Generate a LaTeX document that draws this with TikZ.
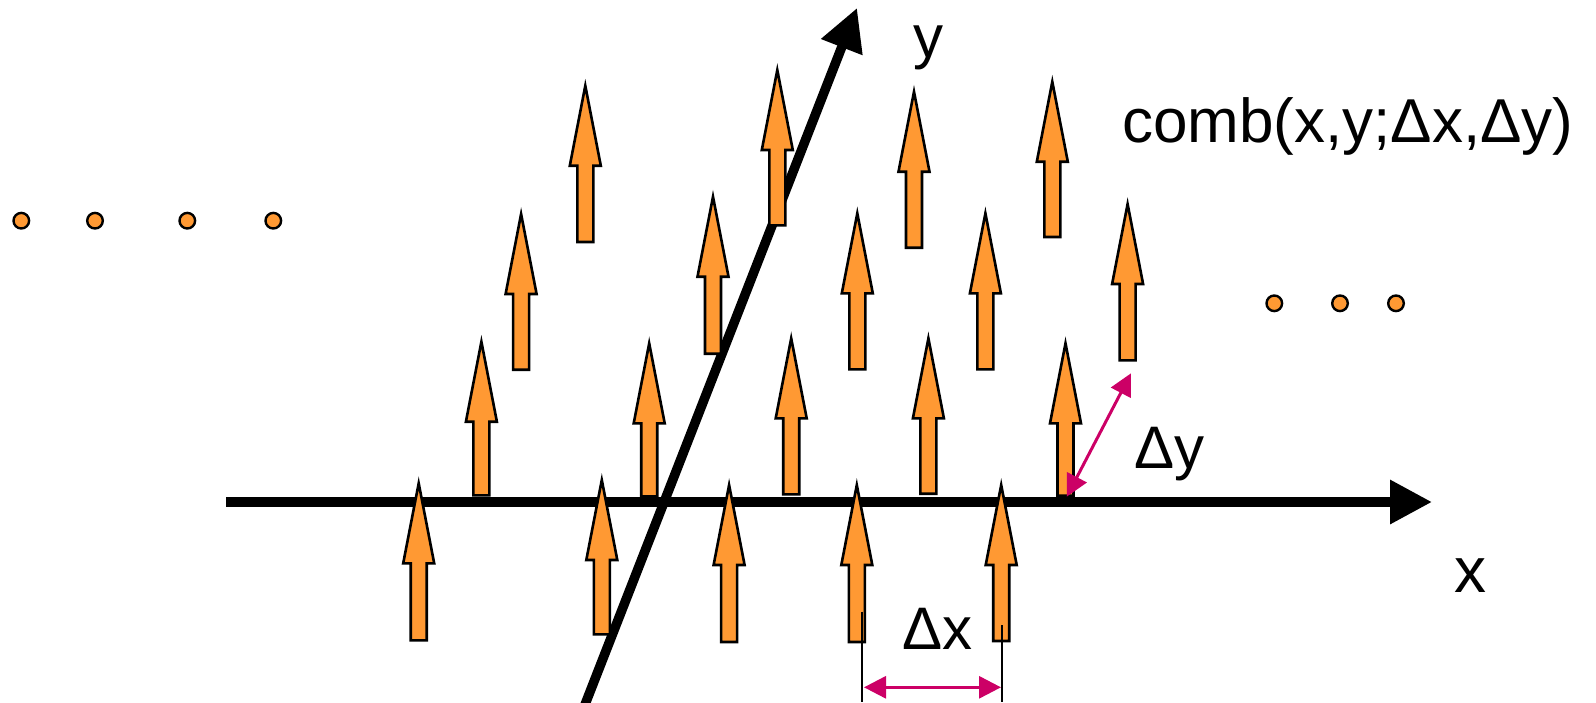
\documentclass[tikz,border=0pt]{standalone}
\usepackage{fontspec}
\setmainfont{Liberation Sans}
\usetikzlibrary{arrows.meta}
\definecolor{combOrange}{HTML}{FF9933}
\definecolor{dimMagenta}{HTML}{CC0066}
\tikzset{
  comb arrow/.style={fill=combOrange, draw=black, line width=2.6pt, line join=miter},
  axisline/.style={line width=9.5pt, -{Triangle[length=42pt,width=42pt]}},
  dotmark/.style={fill=combOrange, draw=black, line width=2.4pt},
  extline/.style={line width=1.8pt},
  dimarrow/.style={draw=dimMagenta, line width=3pt, {Triangle[length=22pt,width=22pt]}-{Triangle[length=22pt,width=22pt]}},
  lbl/.style={inner sep=0pt, anchor=base west, font=\fontsize{60}{62}\selectfont},
  bigl/.style={inner sep=0pt, anchor=base west, font=\fontsize{62}{64}\selectfont}
}
\newcommand\combarrow[4]{%
  \coordinate (#1) at (#2,#3);
  \filldraw[comb arrow] (#2,#3+5) -- (#2+15.5,#3+85) -- (#2+8,#3+85) -- (#2+8,#4-1.3)
    -- (#2-8,#4-1.3) -- (#2-8,#3+85) -- (#2-15.5,#3+85) -- cycle;}
\begin{document}
\begin{tikzpicture}[x=1pt,y=-1pt]
\useasboundingbox (0,0) rectangle (1596,702);
% axes
\coordinate (ystart) at (582.1,712);
\coordinate (yend) at (857,8);
\coordinate (xstart) at (226,502);
\coordinate (xend) at (1432,502);
\draw[axisline] (ystart) -- (yend);
\draw[axisline] (xstart) -- (xend);
% row 1 (below x axis)
\combarrow{a11}{418.7}{478.3}{641.7}
\combarrow{a12}{601.8}{475}{635.7}
\combarrow{a13}{729.1}{480}{643.3}
\combarrow{a14}{856.8}{480}{643.3}
\combarrow{a15}{1001.2}{480}{642.3}
% row 2
\combarrow{a21}{481.4}{336.7}{496.7}
\combarrow{a22}{649.2}{338.3}{497.7}
\combarrow{a23}{791.2}{333.3}{495.7}
\combarrow{a24}{928.4}{333.3}{495}
\combarrow{a25}{1065.5}{338.3}{497}
% row 3
\combarrow{a31}{521.1}{209}{371}
\combarrow{a32}{713}{191.7}{355}
\combarrow{a33}{857.3}{208.3}{370.7}
\combarrow{a34}{985.4}{208.3}{370.7}
\combarrow{a35}{1127.6}{199}{361.7}
% row 4
\combarrow{a41}{585.3}{80.7}{243.3}
\combarrow{a42}{777.3}{65}{226.7}
\combarrow{a43}{914}{86.7}{249}
\combarrow{a44}{1052.3}{76.7}{238.3}
% dots
\foreach \px in {21.3,95,187.3,273.3} \filldraw[dotmark] (\px,220.7) circle (7.8);
\foreach \px in {1274.3,1340,1396} \filldraw[dotmark] (\px,303.3) circle (7.8);
% dimension dx
\coordinate (ex1a) at (862.3,611.7);
\coordinate (ex1b) at (862.3,702);
\coordinate (ex2a) at (1002.3,625);
\coordinate (ex2b) at (1002.3,702);
\draw[extline] (ex1a) -- (ex1b);
\draw[extline] (ex2a) -- (ex2b);
\coordinate (dxl) at (864,687.3);
\coordinate (dxr) at (1001,687.3);
\draw[dimarrow] (dxl) -- (dxr);
% dimension dy
\coordinate (dyl) at (1066.7,496.7);
\coordinate (dyu) at (1131,373.3);
\draw[dimarrow] (dyl) -- (dyu);
% labels
\node[lbl] (labY) at (913,57) {y};
\node[lbl, font=\fontsize{64}{66}\selectfont] (labX) at (1454,592) {x};
\node[lbl] (labDx) at (902,649) {Δx};
\node[lbl] (labDy) at (1134,468) {Δy};
\node[bigl] (labComb) at (1122,142) {comb(x,y;Δx,Δy)};
\end{tikzpicture}
\end{document}
